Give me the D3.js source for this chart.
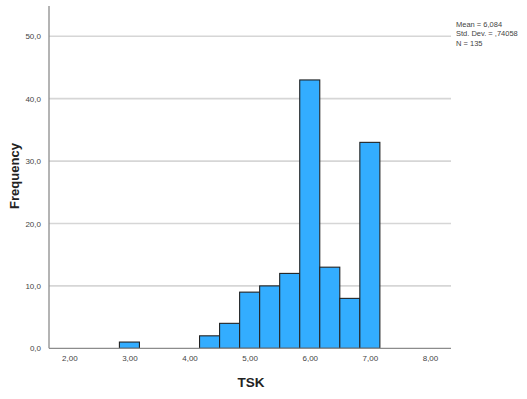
<!DOCTYPE html>
<html>
<head>
<meta charset="utf-8">
<script src="https://cdn.jsdelivr.net/npm/d3@7/dist/d3.min.js"></script>
<style>
  html, body { margin: 0; padding: 0; background: #fff; }
  svg { display: block; font-family: Arial, "Liberation Sans", sans-serif; }
</style>
</head>
<body>
<svg id="chart" width="527" height="399"></svg>
<script>
// Histogram of TSK scores, bins of width 1/3 centred on multiples of 1/3
const binCenters = [3.0, 13 / 3, 14 / 3, 5.0, 16 / 3, 17 / 3, 6.0, 19 / 3, 20 / 3, 7.0];
const frequencies = [1, 2, 4, 9, 10, 12, 43, 13, 8, 33];
const binWidth = 1 / 3;
const xTicks = [2, 3, 4, 5, 6, 7, 8];
const yTicks = [0, 10, 20, 30, 40, 50];
const statLines = ["Mean = 6,084", "Std. Dev. = ,74058", "N = 135"];

const svg = d3.select("#chart");
const plot = { left: 49, right: 451, top: 6, bottom: 348.3 };

const x = d3.scaleLinear().domain([1.662, 8.35]).range([plot.left, plot.right]);
const y = d3.scaleLinear().domain([0, 54.85]).range([plot.bottom, plot.top]);

const fmtX = d => d3.format(".2f")(d).replace(".", ",");
const fmtY = d => d3.format(".1f")(d).replace(".", ",");

// horizontal gridlines
svg.append("g")
  .selectAll("line")
  .data(yTicks.filter(d => d > 0))
  .join("line")
  .attr("x1", plot.left)
  .attr("x2", plot.right)
  .attr("y1", d => y(d))
  .attr("y2", d => y(d))
  .attr("stroke", "#d6d6d6")
  .attr("stroke-width", 1.6);

// bars
svg.append("g")
  .selectAll("rect")
  .data(binCenters.map((c, i) => ({ c, f: frequencies[i] })))
  .join("rect")
  .attr("x", d => x(d.c - binWidth / 2))
  .attr("width", d => x(d.c + binWidth / 2) - x(d.c - binWidth / 2))
  .attr("y", d => y(d.f))
  .attr("height", d => y(0) - y(d.f))
  .attr("fill", "#33adff")
  .attr("stroke", "#222")
  .attr("stroke-width", 1.1);

// y axis
const yAxis = svg.append("g")
  .attr("transform", `translate(${plot.left},0)`)
  .call(d3.axisLeft(y).tickValues(yTicks).tickFormat(fmtY).tickSize(0).tickPadding(8));
yAxis.select(".domain").remove();
yAxis.append("line")
  .attr("x1", 0).attr("x2", 0)
  .attr("y1", plot.top).attr("y2", plot.bottom)
  .attr("stroke", "#8c8c8c").attr("stroke-width", 1.3);
yAxis.selectAll("text")
  .attr("fill", "#444")
  .attr("font-size", 8);

// x axis
const xAxis = svg.append("g")
  .attr("transform", `translate(0,${plot.bottom})`)
  .call(d3.axisBottom(x).tickValues(xTicks).tickFormat(fmtX).tickSize(0).tickPadding(7));
xAxis.select(".domain").remove();
xAxis.append("line")
  .attr("x1", plot.left).attr("x2", plot.right)
  .attr("y1", 0).attr("y2", 0)
  .attr("stroke", "#8c8c8c").attr("stroke-width", 1.3);
xAxis.selectAll("text")
  .attr("fill", "#444")
  .attr("font-size", 8);

// axis titles
svg.append("text")
  .attr("x", 251)
  .attr("y", 387)
  .attr("text-anchor", "middle")
  .attr("font-size", 13.5)
  .attr("font-weight", "bold")
  .attr("fill", "#222")
  .text("TSK");

svg.append("text")
  .attr("transform", "translate(18.5,176) rotate(-90)")
  .attr("text-anchor", "middle")
  .attr("font-size", 13)
  .attr("font-weight", "bold")
  .attr("fill", "#222")
  .text("Frequency");

// summary statistics
svg.append("g")
  .selectAll("text")
  .data(statLines)
  .join("text")
  .attr("x", 456)
  .attr("y", (d, i) => 27 + i * 9.3)
  .attr("font-size", 7.5)
  .attr("fill", "#444")
  .text(d => d);
</script>
</body>
</html>
